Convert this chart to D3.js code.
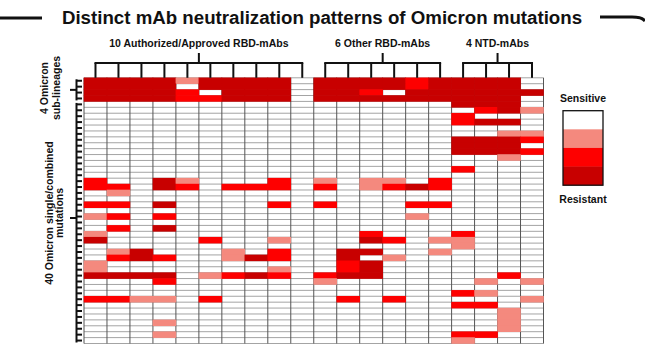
<!DOCTYPE html>
<html><head><meta charset="utf-8">
<script src="https://cdn.jsdelivr.net/npm/d3@7"></script>
<style>
html,body{margin:0;padding:0;background:#fff;}
svg{display:block;font-family:"Liberation Sans",Arial,Helvetica,sans-serif;}
</style></head>
<body><svg id="chart" width="645" height="350"></svg>
<script>
// ---------------- data ----------------
const title = "Distinct mAb neutralization patterns of Omicron mutations";
const groupLabels = ["10 Authorized/Approved RBD-mAbs", "6 Other RBD-mAbs", "4 NTD-mAbs"];
const groupSizes = [10, 6, 4];
const rowGroupLabels = [["4 Omicron", "sub-lineages"], ["40 Omicron single/combined", "mutations"]];
const legendTop = "Sensitive";
const legendBottom = "Resistant";
const levels = [0, 1, 2, 3]; // 0 = sensitive ... 3 = resistant
const levelColors = ["#ffffff", "#f4897e", "#fe0000", "#c80000"];

// 4 Omicron sub-lineages x 20 mAbs
const sublineageValues = [
  [3,3,3,3,1,3,3,3,3,0, 3,3,3,3,2,3, 3,3,3,0],
  [3,3,3,3,0,3,3,3,3,0, 3,3,3,3,2,3, 3,3,3,0],
  [3,3,3,3,2,0,3,3,3,0, 3,3,2,0,3,3, 3,3,3,3],
  [3,3,3,3,2,2,3,3,3,0, 3,3,3,3,3,3, 3,3,3,0]
];
// Omicron single/combined mutations x 20 mAbs
const mutationValues = [
  [0,0,0,0,0,0,0,0,0,0, 0,0,0,0,0,0, 3,3,3,0],
  [0,0,0,0,0,0,0,0,0,0, 0,0,0,0,0,0, 0,2,3,1],
  [0,0,0,0,0,0,0,0,0,0, 0,0,0,0,0,0, 2,0,0,0],
  [0,0,0,0,0,0,0,0,0,0, 0,0,0,0,0,0, 2,3,3,0],
  [0,0,0,0,0,0,0,0,0,0, 0,0,0,0,0,0, 0,0,0,0],
  [0,0,0,0,0,0,0,0,0,0, 0,0,0,0,0,0, 0,0,1,1],
  [0,0,0,0,0,0,0,0,0,0, 0,0,0,0,0,0, 3,3,3,2],
  [0,0,0,0,0,0,0,0,0,0, 0,0,0,0,0,0, 3,3,3,0],
  [0,0,0,0,0,0,0,0,0,0, 0,0,0,0,0,0, 3,3,3,2],
  [0,0,0,0,0,0,0,0,0,0, 0,0,0,0,0,0, 0,0,1,0],
  [0,0,0,0,0,0,0,0,0,0, 0,0,0,0,0,0, 0,0,0,0],
  [0,0,0,0,0,0,0,0,0,0, 0,0,0,0,0,0, 2,0,0,0],
  [0,0,0,0,0,0,0,0,0,0, 0,0,0,0,0,0, 0,0,0,0],
  [2,0,0,3,1,0,0,0,2,0, 1,0,1,1,0,2, 0,0,0,0],
  [2,2,0,3,2,0,2,2,2,0, 2,0,1,2,3,2, 0,0,0,0],
  [0,1,0,0,0,0,0,0,0,0, 0,0,0,0,0,0, 0,0,0,0],
  [0,0,0,0,0,0,0,0,0,0, 0,0,0,0,0,0, 0,0,0,0],
  [2,2,0,3,0,0,0,0,2,0, 2,0,0,0,2,2, 0,0,0,0],
  [0,0,0,0,0,0,0,0,0,0, 0,0,0,0,0,0, 0,0,0,0],
  [1,2,0,2,0,0,0,0,0,0, 0,0,0,0,1,0, 0,0,0,0],
  [0,0,0,0,0,0,0,0,0,0, 0,0,0,0,0,0, 0,0,0,0],
  [0,2,0,3,0,0,0,0,0,0, 0,0,0,0,0,0, 0,0,0,0],
  [1,0,0,0,0,0,0,0,0,0, 0,0,2,0,0,0, 2,0,0,0],
  [3,0,0,0,0,2,0,0,1,0, 0,0,3,2,0,1, 1,0,0,0],
  [0,0,0,0,0,0,0,0,0,0, 0,0,0,0,0,0, 1,0,0,0],
  [0,1,3,0,0,0,1,0,2,0, 0,3,3,0,0,1, 0,0,0,0],
  [0,2,3,2,0,0,1,3,2,0, 0,3,0,1,0,0, 0,0,0,0],
  [1,0,0,0,0,0,0,0,0,0, 0,2,3,0,0,0, 0,0,0,0],
  [1,0,0,0,0,0,0,0,1,0, 0,2,3,0,0,0, 0,0,0,0],
  [3,3,3,3,0,1,2,3,2,0, 2,3,3,0,0,0, 0,0,2,0],
  [0,0,0,2,0,0,0,0,0,0, 1,0,0,0,0,0, 0,1,0,1],
  [0,0,0,0,0,0,0,0,0,0, 0,0,0,0,0,0, 0,0,0,0],
  [0,0,0,0,0,0,0,0,0,0, 0,0,0,0,0,0, 2,1,0,0],
  [2,2,1,1,0,2,0,0,0,0, 0,2,0,2,0,0, 0,0,0,1],
  [0,0,0,0,0,0,0,0,0,0, 0,0,0,0,0,0, 2,2,0,0],
  [0,0,0,0,0,0,0,0,0,0, 0,0,0,0,0,0, 0,0,1,0],
  [0,0,0,0,0,0,0,0,0,0, 0,0,0,0,0,0, 0,0,1,0],
  [0,0,0,1,0,0,0,0,0,0, 0,0,0,0,0,0, 0,0,1,0],
  [0,0,0,0,0,0,0,0,0,0, 0,0,0,0,0,0, 0,0,1,0],
  [0,0,0,1,0,0,0,0,0,0, 0,0,0,0,0,0, 2,2,0,0],
  [0,0,0,0,0,0,0,0,0,0, 0,0,0,0,0,0, 1,0,0,0]
];

// ---------------- chart ----------------
const svg = d3.select("#chart");
const allRows = sublineageValues.concat(mutationValues);
const nCols = d3.sum(groupSizes);
const nSub = sublineageValues.length;

const x = d3.scaleBand().domain(d3.range(nCols)).range([84, 543.5]);
const y = d3.scaleBand().domain(d3.range(allRows.length)).range([77.8, 343.5]);
const color = d3.scaleOrdinal().domain(levels).range(levelColors);

// title + frame lines
svg.append("text").attr("x", 322).attr("y", 24).attr("text-anchor", "middle")
  .attr("font-size", 18.7).attr("font-weight", "bold").attr("fill", "#111").text(title);
svg.append("path").attr("d", "M0,18H42").attr("stroke", "#111").attr("stroke-width", 3).attr("fill", "none");
svg.append("path").attr("d", "M600,17H632Q642,17 645,21").attr("stroke", "#111").attr("stroke-width", 3).attr("fill", "none");

// heatmap grid
const g = svg.append("g");
const x0 = x.range()[0], x1 = x.range()[1], y0 = y.range()[0], y1 = y.range()[1];
g.append("rect").attr("x", x0).attr("y", y0).attr("width", x1 - x0).attr("height", y1 - y0).attr("fill", "#fff");
g.selectAll("line.h").data(d3.range(allRows.length + 1)).join("line").attr("class", "h")
  .attr("x1", x0).attr("x2", x1)
  .attr("y1", i => i < allRows.length ? y(i) : y1).attr("y2", i => i < allRows.length ? y(i) : y1)
  .attr("stroke", "#9a9a9a").attr("stroke-width", 0.9);
g.selectAll("line.v").data(d3.range(nCols + 1)).join("line").attr("class", "v")
  .attr("y1", y0).attr("y2", y1)
  .attr("x1", i => i < nCols ? x(i) : x1).attr("x2", i => i < nCols ? x(i) : x1)
  .attr("stroke", "#555").attr("stroke-width", 1);

const cells = [];
allRows.forEach((row, r) => row.forEach((v, c) => { if (v > 0) cells.push({r, c, v}); }));
g.selectAll("rect.cell").data(cells).join("rect").attr("class", "cell")
  .attr("x", d => x(d.c) - 0.3).attr("y", d => y(d.r) - 0.3)
  .attr("width", x.bandwidth() + 0.6).attr("height", y.bandwidth() + 0.6)
  .attr("fill", d => color(d.v));

// column group brackets
let start = 0;
const lineCol = "#111";
groupSizes.forEach((n, gi) => {
  const cols = d3.range(start, start + n);
  const cx = cols.map(c => x(c) + x.bandwidth() / 2);
  const bg = svg.append("g").attr("stroke", lineCol).attr("stroke-width", 2).attr("fill", "none");
  bg.append("line").attr("x1", cx[0] - 1).attr("x2", cx[cx.length - 1] + 1).attr("y1", 63).attr("y2", 63);
  cx.forEach(v => bg.append("line").attr("x1", v).attr("x2", v).attr("y1", 63).attr("y2", y0));
  const mid = (cx[0] + cx[cx.length - 1]) / 2;
  bg.append("line").attr("x1", mid).attr("x2", mid).attr("y1", 53).attr("y2", 63);
  svg.append("text").attr("x", mid).attr("y", 47).attr("text-anchor", "middle")
    .attr("font-size", 10.5).attr("font-weight", "bold").attr("fill", "#111").text(groupLabels[gi]);
  start += n;
});

// row group axes
const rowGroups = [d3.range(0, nSub), d3.range(nSub, allRows.length)];
const labelCenters = [88, 213];
const tickMid = [null, 218];
rowGroups.forEach((rows, gi) => {
  const ag = svg.append("g").attr("stroke", lineCol).attr("stroke-width", 2).attr("fill", "none");
  const ya = y(rows[0]) + 1.5, yb = y(rows[rows.length - 1]) + y.bandwidth() - 1;
  ag.append("line").attr("x1", 76.5).attr("x2", 76.5).attr("y1", ya).attr("y2", yb);
  rows.forEach(r => {
    const yc = y(r) + y.bandwidth() / 2;
    ag.append("line").attr("x1", 76.5).attr("x2", 82).attr("y1", yc).attr("y2", yc);
  });
  const ym = tickMid[gi] != null ? tickMid[gi] : (ya + yb) / 2;
  ag.append("line").attr("x1", 70).attr("x2", 76.5).attr("y1", ym).attr("y2", ym);
  const lines = rowGroupLabels[gi];
  const baseX = gi === 0 ? [48, 59.5] : [53, 63];
  lines.forEach((t, li) => {
    svg.append("text").attr("transform", `translate(${baseX[li]},${labelCenters[gi]}) rotate(-90)`)
      .attr("text-anchor", "middle").attr("font-size", 10.5).attr("font-weight", "bold")
      .attr("fill", "#111").text(t);
  });
});

// legend
const lg = svg.append("g");
const ly = d3.scaleBand().domain(levels).range([110.7, 185.2]);
const lx = 563, lw = 40;
lg.selectAll("rect").data(levels).join("rect")
  .attr("x", lx).attr("y", d => ly(d)).attr("width", lw).attr("height", ly.bandwidth() + 0.3)
  .attr("fill", d => color(d));
lg.append("rect").attr("x", lx).attr("y", 110.7).attr("width", lw).attr("height", 185.2 - 110.7)
  .attr("fill", "none").attr("stroke", "#111").attr("stroke-width", 1.3);
lg.append("text").attr("x", lx + lw / 2).attr("y", 102).attr("text-anchor", "middle")
  .attr("font-size", 10.5).attr("font-weight", "bold").attr("fill", "#111").text(legendTop);
lg.append("text").attr("x", lx + lw / 2).attr("y", 202.5).attr("text-anchor", "middle")
  .attr("font-size", 10.5).attr("font-weight", "bold").attr("fill", "#111").text(legendBottom);
</script>
</body></html>
